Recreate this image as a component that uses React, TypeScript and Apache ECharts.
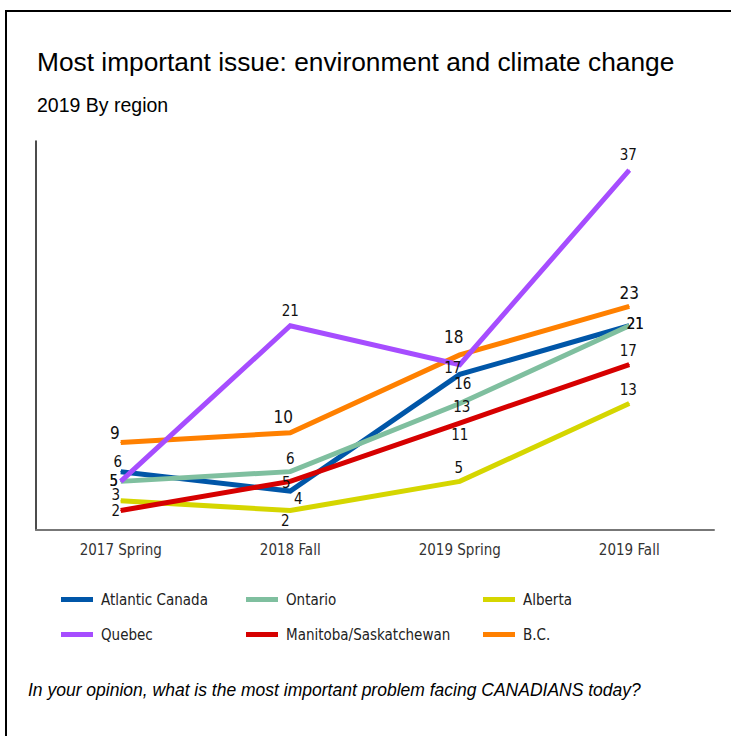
import React, { useEffect, useRef } from "react";
import * as echarts from "echarts";

const categories = ["2017 Spring", "2018 Fall", "2019 Spring", "2019 Fall"];
const seriesNames = ["Alberta", "Atlantic Canada", "Ontario", "Manitoba/Saskatchewan", "B.C.", "Quebec"];
const atlanticCanada = [6, 4, 16, 21];
const ontario = [5, 6, 13, 21];
const alberta = [3, 2, 5, 13];
const quebec = [5, 21, 17, 37];
const manitobaSask = [2, 5, 11, 17];
const bc = [9, 10, 18, 23];

const values: Record<string, number[]> = {
  "Atlantic Canada": atlanticCanada,
  Ontario: ontario,
  Alberta: alberta,
  Quebec: quebec,
  "Manitoba/Saskatchewan": manitobaSask,
  "B.C.": bc,
};

const colors: Record<string, string> = {
  "Atlantic Canada": "#0056a8",
  Ontario: "#7fbf9f",
  Alberta: "#d5d600",
  Quebec: "#a64dff",
  "Manitoba/Saskatchewan": "#d60000",
  "B.C.": "#ff8000",
};

// label offsets (style) relative to each point
const labelOffsets: Record<string, number[][]> = {
  "Atlantic Canada": [[-3, -10], [8, 8], [3, 10], [6, -2]],
  Ontario: [[-7, 0], [0, -13], [2, 3], [6, -2]],
  Alberta: [[-5, -6], [-5, 10], [-1, -13], [-1, -14]],
  Quebec: [[-7, 0], [0, -15], [-7, 3], [-1, -15]],
  "Manitoba/Saskatchewan": [[-5, 0], [-4, 2], [0, 12], [-1, -14]],
  "B.C.": [[-6, -9], [-7, -16], [-6, -18], [0, -13]],
};

const legendLayout: { name: string; left: number; top: number }[] = [
  { name: "Atlantic Canada", left: 56, top: 587 },
  { name: "Ontario", left: 241, top: 587 },
  { name: "Alberta", left: 478, top: 587 },
  { name: "Quebec", left: 56, top: 622 },
  { name: "Manitoba/Saskatchewan", left: 241, top: 622 },
  { name: "B.C.", left: 478, top: 622 },
];

const COND = "'Liberation Sans Narrow', 'DejaVu Sans Condensed', 'Roboto Condensed', sans-serif";
const SANS = "'Liberation Sans', Arial, sans-serif";

export default function App() {
  const ref = useRef<HTMLDivElement>(null);
  useEffect(() => {
    if (!ref.current) return;
    const chart = echarts.init(ref.current, undefined, { renderer: "svg" });
    const series = seriesNames.map((name) => ({
      name,
      type: "line",
      data: values[name].map((v, i) => ({
        value: v,
        label: { offset: labelOffsets[name][i] },
      })),
      color: colors[name],
      symbol: "circle",
      symbolSize: 1,
      showSymbol: true,
      lineStyle: { width: 5, color: colors[name], cap: "butt", join: "miter" },
      itemStyle: { color: colors[name] },
      label: {
        show: true,
        position: "inside",
        fontFamily: COND,
        fontSize: name === "B.C." ? 17 : 15,
        color: "#111",
      },
      emphasis: { disabled: true },
      z: 2,
    }));
    chart.setOption({
      animation: false,
      backgroundColor: "#fff",
      grid: { left: 36, right: 17, top: 141, bottom: 206, containLabel: false },
      xAxis: {
        type: "category",
        data: categories,
        boundaryGap: true,
        axisLine: { show: true, lineStyle: { color: "#777", width: 2 } },
        axisTick: { show: false },
        axisLabel: { fontFamily: COND, fontSize: 15, color: "#333", margin: 12 },
      },
      yAxis: {
        type: "value",
        min: 0,
        max: 40,
        axisLine: { show: true, lineStyle: { color: "#111", width: 1.5 } },
        axisTick: { show: false },
        axisLabel: { show: false },
        splitLine: { show: false },
      },
      legend: legendLayout.map((l) => ({
        data: [l.name],
        left: l.left,
        top: l.top,
        icon: "rect",
        itemWidth: 32,
        itemHeight: 5,
        selectedMode: false,
        textStyle: { fontFamily: COND, fontSize: 15, color: "#222", padding: [0, 0, 0, 3] },
      })),
      graphic: [
        {
          type: "rect",
          shape: { x: 6, y: 11, width: 760, height: 760 },
          style: { fill: "none", stroke: "#000", lineWidth: 2 },
          silent: true,
        },
        {
          type: "text",
          x: 37,
          y: 62,
          style: {
            text: "Most important issue: environment and climate change",
            fontFamily: SANS,
            fontSize: 26.3,
            fill: "#000",
            verticalAlign: "middle",
          },
        },
        {
          type: "text",
          x: 37,
          y: 104.5,
          style: {
            text: "2019 By region",
            fontFamily: SANS,
            fontSize: 19.5,
            fill: "#000",
            verticalAlign: "middle",
          },
        },
        {
          type: "text",
          x: 28,
          y: 689.5,
          style: {
            text: "In your opinion, what is the most important problem facing CANADIANS today?",
            fontFamily: SANS,
            fontStyle: "italic",
            fontSize: 17.5,
            fill: "#000",
            verticalAlign: "middle",
          },
        },
      ],
      series,
    });
    return () => chart.dispose();
  }, []);
  return (
    <div
      ref={ref}
      style={{ position: "absolute", left: 0, top: 0, width: 731, height: 736 }}
    />
  );
}
